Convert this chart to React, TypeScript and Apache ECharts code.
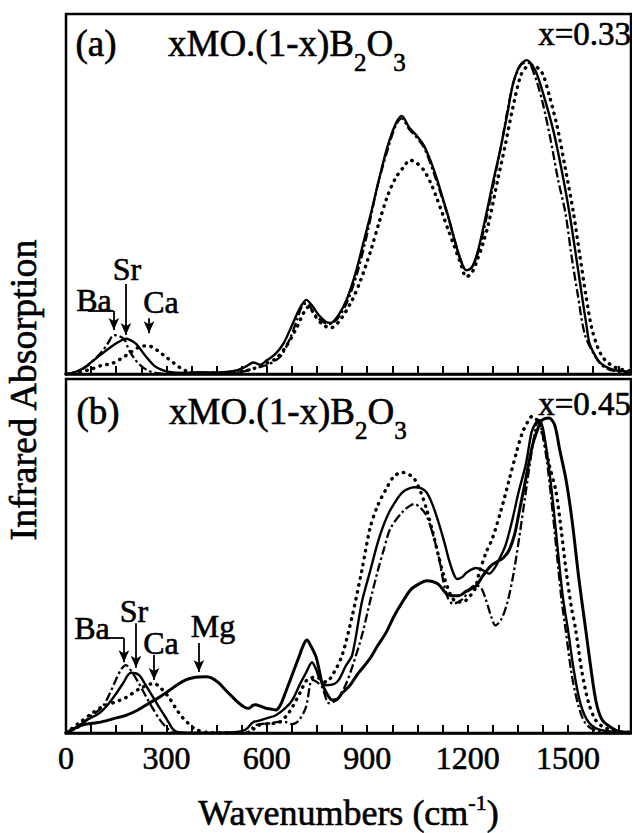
import React, { useEffect, useRef } from 'react';
import * as echarts from 'echarts';

const FONT = "'Liberation Serif', 'Times New Roman', 'DejaVu Serif', serif";

// x axis tick labels (wavenumbers, cm-1)
const tickLabels = [0, 300, 600, 900, 1200, 1500];

// ---------- panel (a): x = 0.33 ----------  [wavenumber, relative absorption %]
const aSr: number[][] = [
  [0, 0], [20, 0.3], [50, 1.5], [80, 3.6], [110, 5.8], [130, 7.2], [155, 8.8], [180, 9.8], [200, 9], [215, 7.8],
  [240, 4.7], [265, 2.2], [290, 1], [320, 0.4], [360, 0.3], [400, 0.5], [440, 0.4], [480, 0.6], [510, 1], [540, 2.2],
  [560, 3.2], [580, 2.6], [600, 3.8], [625, 5.5], [650, 8.5], [675, 13.5], [700, 18.5], [718, 20.6], [735, 19], [755, 16.4],
  [775, 14.6], [791, 14.2], [815, 16.5], [840, 21], [865, 28], [890, 37], [912, 45], [935, 54], [960, 63], [985, 69.5],
  [1003, 71.7], [1025, 68.5], [1045, 66.5], [1069, 63.5], [1090, 59], [1106, 54.8], [1125, 49], [1142, 43.8], [1160, 37.5],
  [1178, 32], [1196, 28.8], [1212, 29.5], [1230, 34], [1250, 42], [1275, 53], [1299, 63], [1320, 73], [1335, 80.4],
  [1355, 85.5], [1377, 87.2], [1395, 85.5], [1408, 83], [1430, 76.5], [1456, 67.6], [1480, 57], [1504, 44.8], [1525, 32],
  [1541, 22], [1555, 13.5], [1565, 8.2], [1585, 4.5], [1601, 2.7], [1625, 1.5], [1650, 0.9], [1688, 0.6],
];
const aBa: number[][] = [
  [0, 0], [30, 0.5], [60, 2], [90, 4.5], [110, 6.5], [125, 8.5], [143, 10.8], [160, 10.5], [175, 9.5], [188, 6.7],
  [205, 4.2], [218, 2.8], [235, 1.5], [255, 0.6], [280, 0.2], [330, 0], [450, 0.2], [520, 0.5], [560, 1.5], [600, 2.5],
  [630, 4], [646, 5.5], [670, 10], [690, 15], [707, 19.2], [720, 19.6], [740, 17], [760, 15], [785, 13.8], [810, 15.2],
  [840, 20], [870, 28], [900, 39], [930, 52], [960, 62], [985, 69], [1003, 71], [1025, 68], [1045, 66], [1069, 63],
  [1100, 55.5], [1142, 43.5], [1178, 32], [1196, 28.8], [1215, 30], [1235, 35], [1260, 45], [1299, 63], [1335, 80.4],
  [1360, 86], [1380, 86.5], [1400, 83], [1425, 75], [1450, 64], [1470, 54], [1492, 44.8], [1510, 33], [1529, 22],
  [1550, 11], [1577, 5.5], [1600, 2.5], [1630, 1], [1688, 0.5],
];
const aCa: number[][] = [
  [0, 0], [40, 0.5], [80, 1.5], [110, 2.5], [134, 2.8], [160, 4], [190, 5.8], [215, 7.3], [235, 7.8], [255, 7.6],
  [275, 6.4], [299, 4.7], [320, 3.2], [340, 1.8], [360, 0.8], [390, 0.3], [450, 0.3], [520, 0.6], [560, 1.5], [600, 3],
  [630, 4.5], [660, 8], [690, 13], [710, 17], [725, 18.7], [745, 16], [767, 13.7], [790, 12.8], [815, 14.5], [852, 20],
  [880, 26], [912, 34.7], [935, 42], [960, 49.3], [985, 54.5], [1009, 57.5], [1027, 59.4], [1045, 58.8], [1069, 56.6],
  [1090, 53], [1106, 49.3], [1125, 44.5], [1142, 40], [1160, 35.5], [1178, 31], [1196, 27], [1212, 28], [1226, 31],
  [1245, 36], [1263, 42], [1290, 54], [1311, 63], [1335, 74], [1359, 83], [1378, 85.5], [1396, 85.8], [1415, 84.5],
  [1426, 83], [1445, 77], [1468, 68.5], [1490, 58], [1516, 44.8], [1535, 33], [1553, 22], [1570, 13], [1589, 7.3],
  [1605, 4.5], [1625, 2.7], [1650, 1.5], [1688, 0.8],
];

// ---------- panel (b): x = 0.45 ----------
const bBa: number[][] = [
  [0, 0], [39, 1.7], [70, 4.5], [108, 7.3], [130, 11], [149, 15], [165, 18], [179, 19.2], [195, 17.5], [218, 14],
  [238, 10.5], [257, 7.3], [280, 3.8], [299, 1.7], [319, 0.2], [350, 0], [450, 0], [537, 0], [567, 2.2], [616, 2.8],
  [640, 3.2], [657, 3.1], [675, 2.5], [695, 3.5], [717, 7.3], [735, 15], [748, 14.5], [765, 13], [786, 8.4], [810, 9.5],
  [835, 13.5], [855, 18.6], [884, 27.5], [908, 37], [932, 46], [950, 52], [969, 57.7], [1005, 62.4], [1041, 64.7],
  [1060, 63.5], [1077, 61.4], [1095, 56.5], [1113, 50], [1125, 44], [1138, 38.8], [1156, 36.5], [1186, 37.9], [1205, 40.5],
  [1222, 41.7], [1240, 41], [1255, 37.5], [1270, 33], [1283, 30.4], [1300, 32], [1319, 37], [1337, 45], [1355, 55.8],
  [1372, 67], [1391, 79.3], [1400, 84.5], [1409, 88], [1420, 86], [1435, 78], [1450, 66], [1465, 52], [1480, 38],
  [1493, 29], [1510, 17], [1530, 8], [1550, 3], [1575, 1], [1620, 0.3], [1688, 0.2],
];
const bSr: number[][] = [
  [0, 0], [30, 1.5], [60, 3.5], [99, 5.6], [125, 8], [149, 11], [170, 14], [194, 17], [218, 16.4], [235, 14],
  [248, 12], [263, 9.7], [278, 7.3], [295, 4.8], [308, 2.8], [320, 1], [335, 0.2], [400, 0], [500, 0.2], [537, 1],
  [558, 3], [577, 3.5], [600, 4.2], [627, 5], [655, 7], [676, 9.3], [700, 14], [717, 17], [735, 20], [747, 18],
  [756, 15.8], [777, 13.5], [800, 13.8], [815, 15], [836, 19], [855, 22], [884, 37], [908, 45.5], [932, 54], [950, 59],
  [969, 63], [1005, 68], [1041, 69.4], [1060, 69.2], [1077, 68], [1095, 64.5], [1113, 59.5], [1130, 54], [1144, 49],
  [1158, 45], [1168, 43.5], [1183, 44], [1198, 45.4], [1225, 46.6], [1245, 46], [1264, 45], [1280, 46.5], [1294, 49],
  [1313, 53], [1333, 60], [1352, 68], [1374, 76], [1391, 85], [1403, 87.5], [1413, 88.4], [1425, 86], [1440, 77],
  [1455, 65], [1470, 51], [1485, 38], [1500, 29], [1515, 19], [1535, 9], [1555, 4], [1580, 1.5], [1620, 0.5], [1688, 0.2],
];
const bCa: number[][] = [
  [0, 0], [39, 2.8], [78, 5.6], [110, 7.5], [140, 8.5], [179, 10], [220, 12.5], [263, 14], [285, 12.5], [308, 10],
  [328, 7], [347, 4.5], [368, 2.5], [388, 1], [420, 0.2], [537, 0], [577, 2.2], [600, 2.6], [637, 3], [660, 5],
  [676, 7.3], [700, 11.5], [720, 15], [747, 15.8], [765, 15], [777, 14.4], [800, 17], [825, 22], [855, 33], [884, 46],
  [908, 57.7], [930, 64], [957, 69], [980, 72.5], [1005, 73.6], [1025, 73], [1041, 71.8], [1060, 68], [1077, 63.3],
  [1095, 57], [1113, 50], [1130, 44], [1150, 38.8], [1168, 37], [1186, 37], [1205, 38.5], [1222, 40.7], [1234, 45],
  [1255, 51], [1274, 55], [1300, 63], [1324, 71.5], [1345, 79], [1363, 84.7], [1380, 88], [1393, 89.5], [1410, 88],
  [1425, 84], [1443, 76], [1463, 68.6], [1480, 57], [1494, 46], [1509, 36], [1523, 29], [1540, 18], [1560, 9],
  [1580, 4], [1600, 2], [1640, 0.5], [1688, 0.2],
];
const bMg: number[][] = [
  [0, 0], [30, 1.5], [60, 2.5], [99, 3], [140, 4], [179, 5], [215, 6.5], [248, 8.4], [280, 10.2], [308, 12],
  [335, 13.8], [358, 15], [380, 15.6], [397, 15.8], [420, 15.9], [436, 15.5], [458, 14], [478, 12], [497, 10.2],
  [517, 8.4], [535, 7.2], [547, 7], [558, 7.8], [567, 8], [580, 7.6], [597, 7], [612, 6.8], [627, 6.5], [640, 7.8],
  [652, 10.5], [666, 14], [682, 18], [696, 21.5], [710, 25], [720, 26.3], [732, 24.5], [747, 21.5], [757, 17.5],
  [765, 14], [780, 11], [795, 9.3], [810, 9.5], [825, 11.3], [848, 13.4], [870, 16.5], [908, 21], [930, 24.5],
  [957, 28.5], [980, 33], [1005, 37], [1030, 40.5], [1053, 42], [1077, 43], [1095, 42.8], [1113, 42], [1135, 39.5],
  [1150, 38.8], [1174, 38.8], [1195, 40], [1210, 40.7], [1225, 41.5], [1246, 44.5], [1270, 47.3], [1290, 48.5],
  [1307, 49.5], [1324, 51.7], [1340, 56], [1353, 62], [1372, 71], [1393, 81], [1410, 86], [1422, 88.4], [1443, 89],
  [1460, 87], [1475, 80], [1494, 71.5], [1512, 60], [1533, 43], [1553, 29], [1570, 17], [1584, 8.7], [1600, 4],
  [1620, 2.1], [1650, 0.5], [1688, 0.2],
];

// annotation arrows: [x1, y1, x2, y2] in data units
const aArrows: number[][] = [
  [179, 25, 179, 10.8], // Sr
  [143, 17.5, 143, 12.2], // Ba
  [248, 15.5, 248, 11.3], // Ca
];
const aBaUnderline: number[] = [66, 17.5, 143, 17.5];
const bArrows: number[][] = [
  [209, 31, 209, 18.4], // Sr
  [173, 26.8, 173, 20], // Ba
  [263, 22, 263, 15], // Ca
  [397, 25.4, 397, 17.2], // Mg
];
const bBaUnderline: number[] = [111, 26.8, 173, 26.8];

const SOLID = { color: '#000', width: 2.4, type: 'solid' as const };
const THICK = { color: '#000', width: 3, type: 'solid' as const };
const DASHDOT = { color: '#000', width: 2.3, type: [9, 3, 2.5, 3], cap: 'butt' as const };
const DOTTED = { color: '#000', width: 3.4, type: [0.5, 6.5], cap: 'round' as const };

const TEXT_STROKE = 0.6;

function arrowData(list: number[][], under: number[]) {
  const d: any[] = list.map((a) => [
    { coord: [a[0], a[1]], symbol: 'none' },
    { coord: [a[2], a[3]], symbol: 'arrow' },
  ]);
  d.push([
    { coord: [under[0], under[1]], symbol: 'none' },
    { coord: [under[2], under[3]], symbol: 'none' },
  ]);
  return d;
}

function xAx(gridIndex: number, labels: boolean) {
  return {
    type: 'value',
    gridIndex,
    min: 0,
    max: 1688,
    interval: 75,
    axisLine: { show: true, onZero: false, lineStyle: { color: '#000', width: 2.5 } },
    axisTick: { show: true, inside: true, length: 8, lineStyle: { color: '#000', width: 2 } },
    axisLabel: {
      show: labels,
      formatter: (v: number) => (tickLabels.indexOf(v) >= 0 ? String(v) : ''),
      showMaxLabel: false,
      color: '#000',
      fontFamily: FONT,
      fontSize: 32,
      margin: 9,
      textBorderColor: '#000',
      textBorderWidth: TEXT_STROKE,
    },
    splitLine: { show: false },
    name: labels ? '{n|Wavenumbers (cm}{s|-1}{n|)}' : '',
    nameLocation: 'middle',
    nameGap: 58,
    nameTextStyle: {
      rich: {
        n: {
          fontFamily: FONT, fontSize: 36, color: '#000', lineHeight: 40, verticalAlign: 'bottom',
          textBorderColor: '#000', textBorderWidth: TEXT_STROKE,
        },
        s: {
          fontFamily: FONT, fontSize: 22, color: '#000', lineHeight: 16, verticalAlign: 'top',
          textBorderColor: '#000', textBorderWidth: TEXT_STROKE,
        },
      },
    },
  };
}

function line(name: string, data: number[][], idx: number, style: any, extra: any = {}) {
  return {
    type: 'line',
    name,
    data,
    xAxisIndex: idx,
    yAxisIndex: idx,
    showSymbol: false,
    symbol: 'none',
    smooth: 0.3,
    silent: true,
    lineStyle: style,
    ...extra,
  };
}

function markArrows(list: number[][], under: number[]) {
  return {
    markLine: {
      silent: true,
      symbol: ['none', 'arrow'],
      symbolSize: [8, 12],
      label: { show: false },
      lineStyle: { color: '#000', width: 1.8, type: 'solid' },
      data: arrowData(list, under),
    },
  };
}

function txt(text: string, x: number, y: number, size: number, align = 'center', extra: any = {}) {
  return {
    type: 'text',
    x,
    y,
    silent: true,
    ...extra,
    style: {
      text,
      fill: '#000',
      stroke: '#000',
      lineWidth: TEXT_STROKE,
      font: `${size}px ${FONT}`,
      align,
      textAlign: align,
      verticalAlign: 'middle',
      textVerticalAlign: 'middle',
    },
  };
}

let measureCtx: CanvasRenderingContext2D | null = null;
function textWidth(s: string, size: number) {
  if (!measureCtx) measureCtx = document.createElement('canvas').getContext('2d');
  if (!measureCtx) return s.length * size * 0.5;
  measureCtx.font = `${size}px ${FONT}`;
  return measureCtx.measureText(s).width;
}

// formula "xMO.(1-x)B2O3" with true subscripts
function formula(x: number, yc: number) {
  const main = 37;
  const sub = 25;
  const parts: [string, boolean][] = [['xMO.(1-x)B', false], ['2', true], ['O', false], ['3', true]];
  let cx = x;
  const out: any[] = [];
  for (const [s, isSub] of parts) {
    const size = isSub ? sub : main;
    out.push(txt(s, cx, isSub ? yc + 19 : yc, size, 'left'));
    cx += textWidth(s, size);
  }
  return out;
}

export default function App() {
  const ref = useRef<HTMLDivElement>(null);
  useEffect(() => {
    document.body.style.margin = '0';
    const chart = echarts.init(ref.current as HTMLDivElement, null, { renderer: 'svg' });
    const option: any = {
      animation: false,
      backgroundColor: '#fff',
      grid: [
        { left: 66, top: 14, width: 565, height: 360, show: true, borderColor: '#000', borderWidth: 2.5, backgroundColor: 'transparent' },
        { left: 66, top: 379, width: 565, height: 354, show: true, borderColor: '#000', borderWidth: 2.5, backgroundColor: 'transparent' },
      ],
      xAxis: [xAx(0, false), xAx(1, true)],
      yAxis: [
        { type: 'value', gridIndex: 0, min: 0, max: 100, show: false },
        { type: 'value', gridIndex: 1, min: 0, max: 100, show: false },
      ],
      series: [
        line('Ba (a)', aBa, 0, DASHDOT),
        line('Ca (a)', aCa, 0, DOTTED),
        line('Sr (a)', aSr, 0, SOLID, markArrows(aArrows, aBaUnderline)),
        line('Ba (b)', bBa, 1, DASHDOT),
        line('Ca (b)', bCa, 1, DOTTED),
        line('Sr (b)', bSr, 1, SOLID, markArrows(bArrows, bBaUnderline)),
        line('Mg (b)', bMg, 1, THICK),
      ],
      graphic: [
        txt('Infrared Absorption', 23, 390, 38, 'center', { rotation: Math.PI / 2 }),
        txt('(a)', 96, 43, 37),
        txt('(b)', 98, 411, 37),
        ...formula(168, 43),
        ...formula(169, 411),
        txt('x=0.33', 631, 34, 33, 'right'),
        txt('x=0.45', 631, 404, 33, 'right'),
        txt('Ba', 94, 300, 32),
        txt('Sr', 127, 269, 32),
        txt('Ca', 161, 302, 32),
        txt('Ba', 92, 628, 32),
        txt('Sr', 134, 611, 32),
        txt('Ca', 161, 643, 32),
        txt('Mg', 213, 626, 32),
      ],
    };
    chart.setOption(option);
    return () => chart.dispose();
  }, []);
  return (
    <div
      ref={ref}
      style={{ width: 632, height: 833, position: 'absolute', left: 0, top: 0, background: '#fff' }}
    />
  );
}
